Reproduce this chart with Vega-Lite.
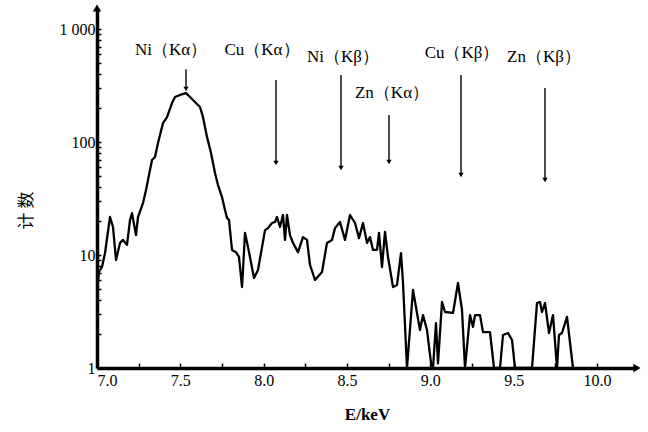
{
  "$schema": "https://vega.github.io/schema/vega-lite/v6.json",
  "width": 540,
  "height": 360,
  "autosize": {"type": "none"},
  "padding": {"left": 97, "top": 8, "right": 11, "bottom": 64},
  "background": "white",
  "config": {"view": {"stroke": null}, "font": "Liberation Serif"},
  "encoding": {
    "x": {"field": "E", "type": "quantitative",
      "scale": {"domain": [7.0, 10.24], "nice": false, "zero": false},
      "axis": {"title": "E/keV", "titleFont": "Liberation Serif", "titleFontSize": 17, "titleFontWeight": "bold", "titleColor": "black", "titlePadding": 18,
        "values": [7.0, 7.25, 7.5, 7.75, 8.0, 8.25, 8.5, 8.75, 9.0, 9.25, 9.5, 9.75, 10.0],
        "labelExpr": "(round(datum.value*4) % 2 == 0) ? format(datum.value, '.1f') : ''",
        "labelFont": "Liberation Serif", "labelFontSize": 16, "labelColor": "black", "labelPadding": 9,
        "domainColor": "black", "domainWidth": 3.5, "tickColor": "black", "tickWidth": 1.5, "tickSize": -5, "grid": false}},
    "y": {"field": "count", "type": "quantitative",
      "scale": {"type": "log", "domain": [1, 1535], "nice": false},
      "axis": {"title": "计 数", "titleFont": "Noto Sans CJK SC", "titleFontSize": 17, "titleFontWeight": "normal", "titleColor": "black", "titleX": -71, "titleY": 202, "titleBaseline": "middle",
        "values": [1, 2, 3, 4, 5, 6, 7, 8, 9, 10, 20, 30, 40, 50, 60, 70, 80, 90, 100, 200, 300, 400, 500, 600, 700, 800, 900, 1000],
        "labelExpr": "datum.value==1000 ? '1 000' : datum.value==100 ? '100' : datum.value==10 ? '10' : datum.value==1 ? '1' : ''",
        "labelFont": "Liberation Serif", "labelFontSize": 16, "labelColor": "black", "labelPadding": 6,
        "domainColor": "black", "domainWidth": 3.5, "tickColor": "black", "tickWidth": 1.5, "tickSize": -4, "grid": false}}
  },
  "layer": [
    {
      "data": {"values": [
        {"E": 7.000, "count": 4.9}, {"E": 7.012, "count": 7.07}, {"E": 7.030, "count": 7.83}, {"E": 7.048, "count": 10.4},
        {"E": 7.078, "count": 21.7}, {"E": 7.096, "count": 17.7}, {"E": 7.114, "count": 9.03}, {"E": 7.138, "count": 12.8},
        {"E": 7.156, "count": 13.6}, {"E": 7.180, "count": 12.3}, {"E": 7.198, "count": 20.4}, {"E": 7.210, "count": 23.5},
        {"E": 7.234, "count": 15.0}, {"E": 7.246, "count": 21.7}, {"E": 7.276, "count": 28.8}, {"E": 7.294, "count": 37.6},
        {"E": 7.306, "count": 46.1}, {"E": 7.330, "count": 69.3}, {"E": 7.348, "count": 73.7}, {"E": 7.366, "count": 98.0},
        {"E": 7.396, "count": 147}, {"E": 7.420, "count": 166}, {"E": 7.450, "count": 221}, {"E": 7.468, "count": 250},
        {"E": 7.498, "count": 261}, {"E": 7.534, "count": 271}, {"E": 7.558, "count": 250}, {"E": 7.588, "count": 226},
        {"E": 7.618, "count": 204}, {"E": 7.636, "count": 166}, {"E": 7.660, "count": 111}, {"E": 7.684, "count": 80},
        {"E": 7.708, "count": 53.2}, {"E": 7.726, "count": 41.6}, {"E": 7.750, "count": 32.6}, {"E": 7.768, "count": 25.0},
        {"E": 7.780, "count": 21.3}, {"E": 7.792, "count": 20.4}, {"E": 7.810, "count": 11.1}, {"E": 7.834, "count": 10.6},
        {"E": 7.852, "count": 9.6}, {"E": 7.870, "count": 5.21}, {"E": 7.876, "count": 7.37}, {"E": 7.888, "count": 15.7},
        {"E": 7.906, "count": 11.8}, {"E": 7.942, "count": 6.26}, {"E": 7.966, "count": 7.37}, {"E": 8.008, "count": 16.6},
        {"E": 8.026, "count": 17.3}, {"E": 8.050, "count": 19.2}, {"E": 8.068, "count": 19.6}, {"E": 8.080, "count": 21.7},
        {"E": 8.098, "count": 17.7}, {"E": 8.116, "count": 22.6}, {"E": 8.128, "count": 13.6}, {"E": 8.140, "count": 22.6},
        {"E": 8.158, "count": 15.0}, {"E": 8.176, "count": 12.8}, {"E": 8.206, "count": 10.6}, {"E": 8.236, "count": 14.4},
        {"E": 8.260, "count": 13.6}, {"E": 8.278, "count": 8.16}, {"E": 8.308, "count": 6.01}, {"E": 8.350, "count": 7.07},
        {"E": 8.380, "count": 12.8}, {"E": 8.410, "count": 13.6}, {"E": 8.428, "count": 17.3}, {"E": 8.458, "count": 19.6},
        {"E": 8.488, "count": 13.6}, {"E": 8.518, "count": 22.6}, {"E": 8.548, "count": 19.2}, {"E": 8.572, "count": 14.1},
        {"E": 8.596, "count": 19.2}, {"E": 8.620, "count": 12.8}, {"E": 8.638, "count": 14.4}, {"E": 8.656, "count": 11.1},
        {"E": 8.680, "count": 11.1}, {"E": 8.692, "count": 15.7}, {"E": 8.710, "count": 7.83}, {"E": 8.728, "count": 16.0},
        {"E": 8.746, "count": 9.6}, {"E": 8.776, "count": 5.21}, {"E": 8.800, "count": 5.43}, {"E": 8.824, "count": 10.4},
        {"E": 8.836, "count": 5.65}, {"E": 8.860, "count": 1}, {"E": 8.896, "count": 4.9}, {"E": 8.920, "count": 3.07},
        {"E": 8.938, "count": 2.17}, {"E": 8.956, "count": 2.94}, {"E": 8.980, "count": 2.17}, {"E": 9.004, "count": 1.11},
        {"E": 9.016, "count": 1}, {"E": 9.034, "count": 2.5}, {"E": 9.046, "count": 1.1}, {"E": 9.070, "count": 3.84},
        {"E": 9.088, "count": 3.13}, {"E": 9.136, "count": 3.07}, {"E": 9.166, "count": 5.65}, {"E": 9.190, "count": 3.26},
        {"E": 9.208, "count": 1}, {"E": 9.238, "count": 2.94}, {"E": 9.256, "count": 2.31}, {"E": 9.268, "count": 2.94},
        {"E": 9.298, "count": 2.94}, {"E": 9.316, "count": 2.08}, {"E": 9.358, "count": 2.08}, {"E": 9.382, "count": 1},
        {"E": 9.418, "count": 1}, {"E": 9.436, "count": 1.96}, {"E": 9.466, "count": 2.04}, {"E": 9.490, "count": 1.77},
        {"E": 9.508, "count": 1}, {"E": 9.610, "count": 1}, {"E": 9.640, "count": 3.76}, {"E": 9.658, "count": 3.84},
        {"E": 9.670, "count": 3.13}, {"E": 9.688, "count": 3.76}, {"E": 9.712, "count": 2.04}, {"E": 9.736, "count": 2.94},
        {"E": 9.760, "count": 1}, {"E": 9.772, "count": 1.96}, {"E": 9.790, "count": 2.04}, {"E": 9.820, "count": 2.83},
        {"E": 9.856, "count": 1}
      ]},
      "mark": {"type": "line", "color": "black", "strokeWidth": 2.3, "strokeJoin": "round", "clip": false}
    },
    {
      "data": {"name": "arrows", "values": [
        {"label": "Ni(Kα)", "E": 7.534, "count": 440, "count2": 295},
        {"label": "Cu(Kα)", "E": 8.074, "count": 354, "count2": 65.2},
        {"label": "Ni(Kβ)", "E": 8.464, "count": 392, "count2": 58.9},
        {"label": "Zn(Kα)", "E": 8.752, "count": 173, "count2": 66.5},
        {"label": "Cu(Kβ)", "E": 9.184, "count": 392, "count2": 51.1},
        {"label": "Zn(Kβ)", "E": 9.688, "count": 301, "count2": 46.1}
      ]},
      "mark": {"type": "rule", "color": "black", "strokeWidth": 1.4},
      "encoding": {"y2": {"field": "count2"}}
    },
    {
      "data": {"values": [
        {"E": 7.534, "count": 295},
        {"E": 8.074, "count": 65.2},
        {"E": 8.464, "count": 58.9},
        {"E": 8.752, "count": 66.5},
        {"E": 9.184, "count": 51.1},
        {"E": 9.688, "count": 46.1}
      ]},
      "mark": {"type": "point", "shape": "triangle-down", "filled": true, "color": "black", "size": 28, "opacity": 1}
    },
    {
      "data": {"values": [
        {"label": "Ni（Kα）", "E": 7.444, "count": 652},
        {"label": "Cu（Kα）", "E": 7.99, "count": 652},
        {"label": "Ni（Kβ）", "E": 8.476, "count": 565},
        {"label": "Zn（Kα）", "E": 8.77, "count": 271},
        {"label": "Cu（Kβ）", "E": 9.19, "count": 613},
        {"label": "Zn（Kβ）", "E": 9.682, "count": 565}
      ]},
      "mark": {"type": "text", "font": "Liberation Serif", "fontSize": 17, "color": "black", "align": "center", "baseline": "middle"},
      "encoding": {"text": {"field": "label"}}
    },
    {
      "data": {"values": [
        {"E": 7.0, "count": 1535, "shape": "triangle-up"},
        {"E": 10.24, "count": 1, "shape": "triangle-right"}
      ]},
      "mark": {"type": "point", "filled": true, "color": "black", "size": 70, "opacity": 1, "clip": false},
      "encoding": {"shape": {"field": "shape", "type": "nominal", "scale": null, "legend": null}}
    }
  ]
}
